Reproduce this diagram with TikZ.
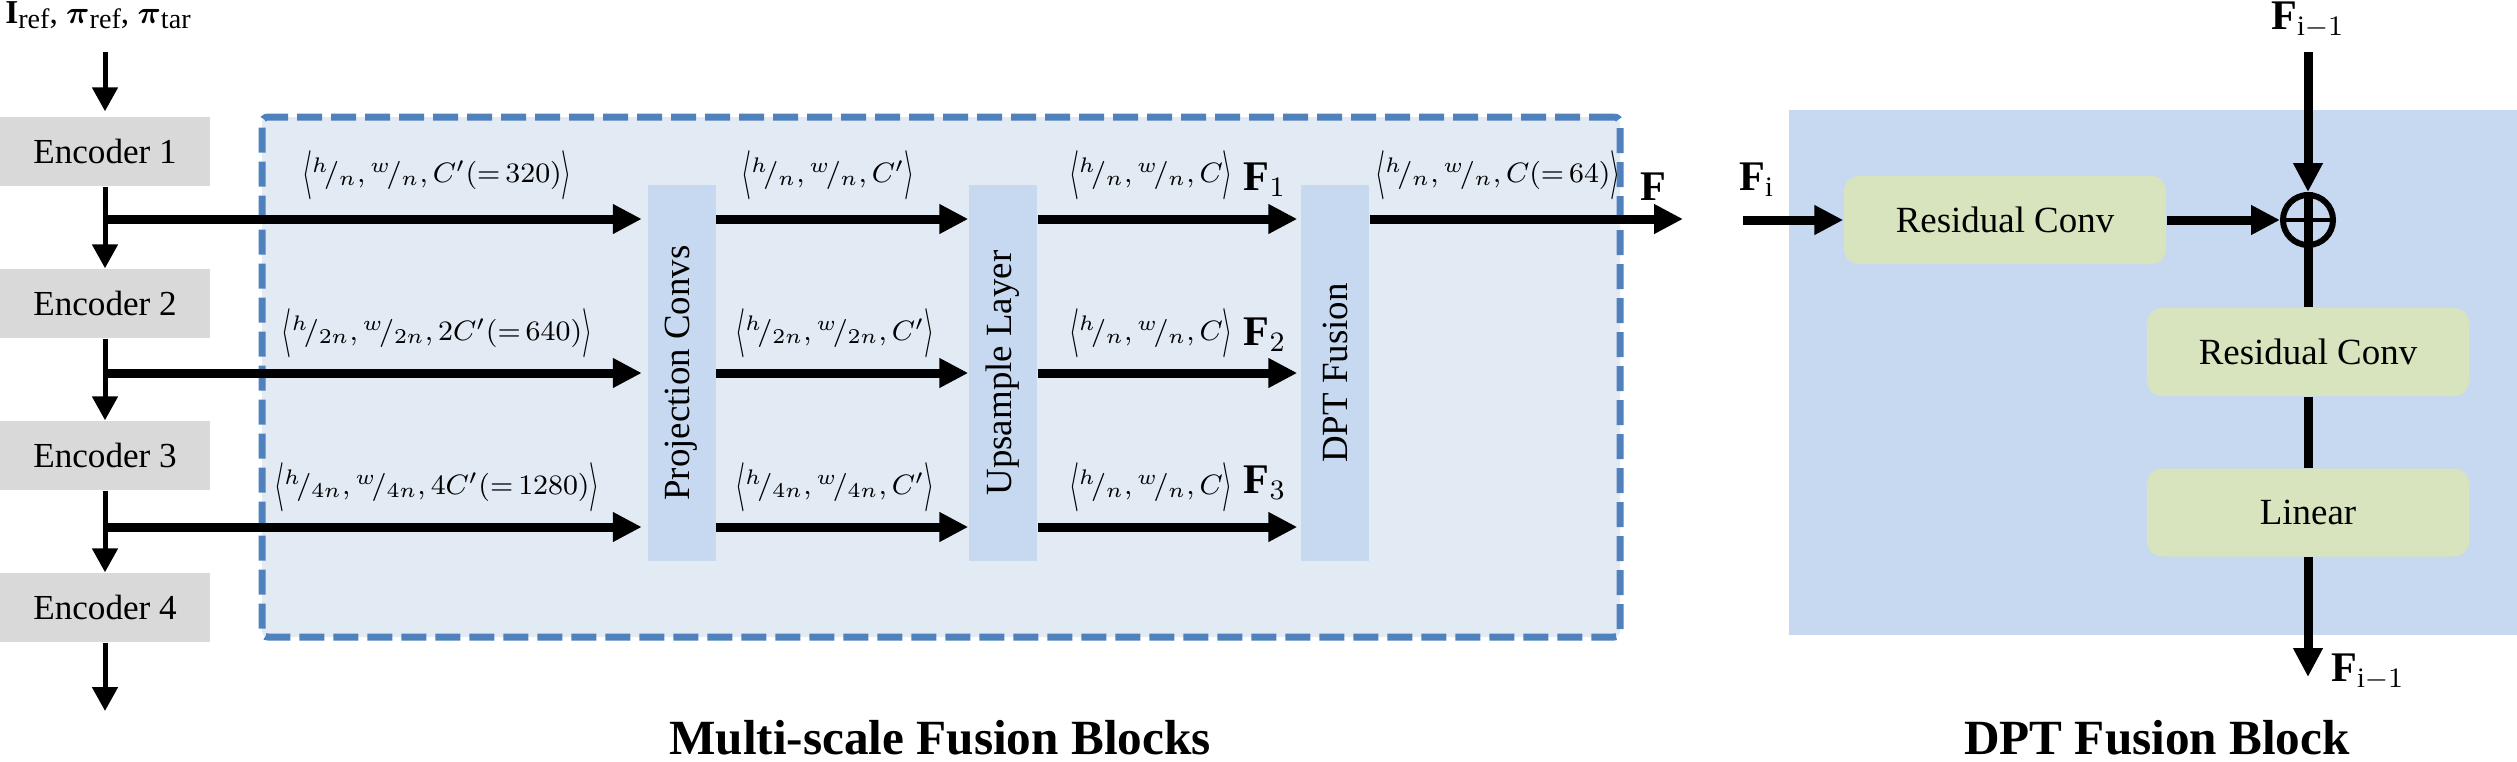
\documentclass[tikz,border=0pt]{standalone}
\usepackage{amsmath,bm,graphicx}
\usepackage{fontspec}
\setmainfont{Liberation Serif}
\usetikzlibrary{arrows.meta}
\definecolor{encgray}{HTML}{D9D9D9}
\definecolor{dashfill}{HTML}{E2EAF4}
\definecolor{dashblue}{HTML}{4F81BD}
\definecolor{colblue}{HTML}{C6D9F0}
\definecolor{greenbox}{HTML}{D7E4BD}
\newcommand{\nfr}[2]{{}^{#1}\!/_{#2}}
\newcommand{\lang}{\mathopen{\vcenter{\hbox{\scalebox{0.85}[1.75]{$\langle$}}}}}
\newcommand{\rang}{\mathclose{\vcenter{\hbox{\scalebox{0.85}[1.75]{$\rangle$}}}}}
\newcommand{\sbx}[1]{\raisebox{-1.5pt}{\fontsize{8}{9}\selectfont #1}}
\newcommand{\eqv}[1]{({=}\,#1)}
\begin{document}
\begin{tikzpicture}[x=0.1mm,y=-0.1mm,
  encbox/.style={rectangle, fill=encgray, minimum width=21mm, minimum height=6.9mm, inner sep=0pt, font=\fontsize{10}{12}\selectfont},
  colbox/.style={rectangle, fill=colblue, minimum width=6.8mm, minimum height=37.6mm, inner sep=0pt},
  coltext/.style={rotate=90, font=\fontsize{10.5}{12}\selectfont},
  gbox/.style={rectangle, rounded corners=1.5mm, fill=greenbox, minimum width=32.2mm, minimum height=8.8mm, inner sep=0pt, font=\fontsize{10.5}{12}\selectfont},
  bigarrow/.style={line width=0.9mm, -{Triangle[length=2.9mm,width=2.8mm]}},
  bigline/.style={line width=0.9mm},
  thinarrow/.style={line width=0.5mm, -{Triangle[length=2.4mm,width=2.5mm]}},
  dimlab/.style={font=\fontsize{8.3}{10}\selectfont, inner sep=0pt},
  flab/.style={font=\fontsize{12}{14}\selectfont, inner sep=0pt},
  ttl/.style={font=\fontsize{14}{16}\selectfont\bfseries, anchor=base},
]
\useasboundingbox (0,0) rectangle (2517,761);

% dashed container
\node[rectangle, fill=dashfill, draw=dashblue, line width=0.7mm, dash pattern=on 2.5mm off 0.9mm, rounded corners=0.6mm, minimum width=135.8mm, minimum height=52mm, inner sep=0pt] (msf) at (941,377) {};

% encoders
\node[encbox] (enc1) at (105,151.5) {Encoder 1};
\node[encbox] (enc2) at (105,303.5) {Encoder 2};
\node[encbox] (enc3) at (105,455.5) {Encoder 3};
\node[encbox] (enc4) at (105,607.5) {Encoder 4};
\node[font=\fontsize{9.5}{11}\selectfont, inner sep=0pt, anchor=base] (inp) at (98,23) {\textbf{I}\sbx{ref}, $\bm{\pi}$\sbx{ref}, $\bm{\pi}$\sbx{tar}};
\coordinate (tin) at (105,52);
\coordinate (bout) at (105,711);
\draw[thinarrow, shorten >=0.5mm] (tin) -- (enc1.north);
\draw[thinarrow] (enc1.south) -- (enc2.north);
\draw[thinarrow] (enc2.south) -- (enc3.north);
\draw[thinarrow] (enc3.south) -- (enc4.north);
\draw[thinarrow] (enc4.south) -- (bout);

% column boxes
\node[colbox] (proj) at (681.5,373) {};
\node[colbox] (ups) at (1003,373) {};
\node[colbox] (dpt) at (1335,373) {};
\node[coltext] at (proj.center) {Projection Convs};
\node[coltext] at (ups.center) {Upsample Layer};
\node[coltext] at (dpt.center) {DPT Fusion};

% rows
\coordinate (r1) at (105,219);
\coordinate (r2) at (105,373);
\coordinate (r3) at (105,527);
\coordinate (fout) at (1683,219);
\draw[bigarrow, shorten >=0.5mm] (r1) -- (r1 -| proj.west);
\draw[bigarrow, shorten >=0.5mm] (r2) -- (r2 -| proj.west);
\draw[bigarrow, shorten >=0.5mm] (r3) -- (r3 -| proj.west);
\draw[bigarrow] (proj.east |- r1) -- (ups.west |- r1);
\draw[bigarrow] (proj.east |- r2) -- (ups.west |- r2);
\draw[bigarrow] (proj.east |- r3) -- (ups.west |- r3);
\draw[bigarrow, shorten >=0.3mm] (ups.east |- r1) -- (dpt.west |- r1);
\draw[bigarrow, shorten >=0.3mm] (ups.east |- r2) -- (dpt.west |- r2);
\draw[bigarrow, shorten >=0.3mm] (ups.east |- r3) -- (dpt.west |- r3);
\draw[bigarrow] (dpt.east |- r1) -- (fout);

% dimension labels
\node[dimlab] (l11) at (437,175) {$\lang\nfr{h}{n},\nfr{w}{n},C'\eqv{320}\rang$};
\node[dimlab] (l21) at (437,333) {$\lang\nfr{h}{2n},\nfr{w}{2n},2C'\eqv{640}\rang$};
\node[dimlab] (l31) at (437,487) {$\lang\nfr{h}{4n},\nfr{w}{4n},4C'\eqv{1280}\rang$};
\node[dimlab] (l12) at (828,175) {$\lang\nfr{h}{n},\nfr{w}{n},C'\rang$};
\node[dimlab] (l22) at (835,333) {$\lang\nfr{h}{2n},\nfr{w}{2n},C'\rang$};
\node[dimlab] (l32) at (835,487) {$\lang\nfr{h}{4n},\nfr{w}{4n},C'\rang$};
\node[dimlab] (l13) at (1151,175) {$\lang\nfr{h}{n},\nfr{w}{n},C\rang$};
\node[dimlab] (l23) at (1151,333) {$\lang\nfr{h}{n},\nfr{w}{n},C\rang$};
\node[dimlab] (l33) at (1151,487) {$\lang\nfr{h}{n},\nfr{w}{n},C\rang$};
\node[dimlab] (l14) at (1498,175) {$\lang\nfr{h}{n},\nfr{w}{n},C\eqv{64}\rang$};
\node[flab] (f1) at (1265,180) {$\textbf{F}_{1}$};
\node[flab] (f2) at (1265,335) {$\textbf{F}_{2}$};
\node[flab] (f3) at (1265,483) {$\textbf{F}_{3}$};
\node[flab] (fo) at (1653,187) {$\textbf{F}$};

% DPT fusion block
\node[rectangle, fill=colblue, minimum width=72.8mm, minimum height=52.5mm, inner sep=0pt] (dptb) at (2153,372.5) {};
\node[gbox] (rc1) at (2005,220) {Residual Conv};
\node[gbox] (rc2) at (2308,352) {Residual Conv};
\node[gbox] (lin) at (2308,512.5) {Linear};
\node[circle, draw, line width=0.6mm, minimum size=5mm, inner sep=0pt] (op) at (2308,220) {};
\draw[line width=0.4mm] (op.west) -- (op.east);
\draw[bigline] (op.north) -- (op.south);
\coordinate (ftop) at (2308,52);
\coordinate (fbot) at (2308,677);
\coordinate (fin) at (1743,220);
\draw[bigarrow] (ftop) -- (op.north);
\draw[bigline] (op.south) -- (rc2.north);
\draw[bigline] (rc2.south) -- (lin.north);
\draw[bigarrow] (lin.south) -- (fbot);
\draw[bigarrow] (fin) -- (rc1.west);
\draw[bigarrow] (rc1.east) -- (op.west);
\node[flab] (fim1t) at (2308,20) {$\textbf{F}_{\mathrm{i}-1}$};
\node[flab] (fim1b) at (2368,672) {$\textbf{F}_{\mathrm{i}-1}$};
\node[flab] (fi) at (1757,180) {$\textbf{F}_{\mathrm{i}}$};

% titles
\node[ttl] (t1) at (940,754) {Multi-scale Fusion Blocks};
\node[ttl] (t2) at (2157,754) {DPT Fusion Block};
\end{tikzpicture}
\end{document}
